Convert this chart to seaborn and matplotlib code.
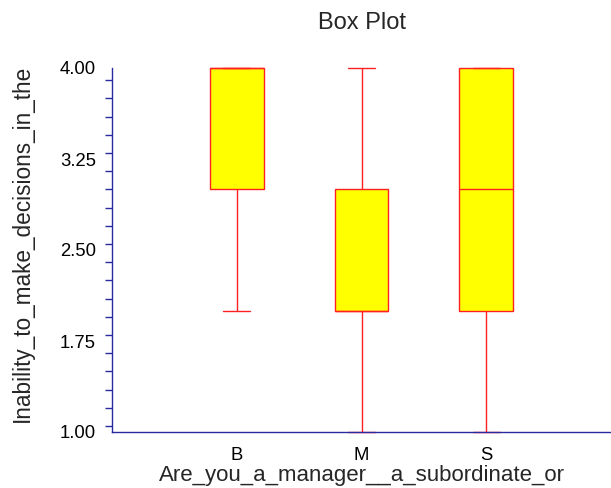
import matplotlib
matplotlib.use("Agg")
import matplotlib.pyplot as plt
import seaborn as sns
import pandas as pd
from matplotlib.ticker import MultipleLocator

# Data (per-group raw values reproducing the box summaries)
categories = ["B", "M", "S"]
values_B = [2, 3, 4, 4, 4]
values_M = [1, 2, 2, 3, 4]
values_S = [1, 2, 3, 4, 4]
y_ticks = [1.00, 1.75, 2.50, 3.25, 4.00]

rows = []
for cat, vals in zip(categories, [values_B, values_M, values_S]):
    for v in vals:
        rows.append({"group": cat, "value": v})
df = pd.DataFrame(rows)

sns.set_style("white")
plt.rcParams["font.family"] = ["Liberation Sans", "DejaVu Sans"]

axis_col = "#2a2aa0"
fig = plt.figure(figsize=(6.11, 4.88), dpi=100)
ax = fig.add_axes([112/611, 1-432/488, 1-112/611, (432-68)/488])

sns.boxplot(data=df, x="group", y="value", order=categories, ax=ax,
            color="#FFFF00", linecolor="#FF2020", saturation=1,
            width=0.43, linewidth=1.0, whis=1.5, showfliers=False)
for art in ax.patches + ax.lines:
    art.set_clip_on(False)

ax.set_xlim(-1, 3)
ax.set_ylim(1, 4)
ax.set_yticks(y_ticks)
ax.set_yticklabels([f"{t:.2f}" for t in y_ticks])
ax.yaxis.set_minor_locator(MultipleLocator(0.15))

for s in ["top", "right"]:
    ax.spines[s].set_visible(False)
for s in ["left", "bottom"]:
    ax.spines[s].set_color(axis_col)
    ax.spines[s].set_linewidth(1.0)

ax.tick_params(axis="both", which="both", direction="out", colors=axis_col,
               labelcolor="black", labelsize=13.3, width=1.0)
ax.tick_params(axis="y", which="major", length=5, pad=6.5)
ax.tick_params(axis="y", which="minor", length=5, left=True)
ax.tick_params(axis="x", which="major", length=5, pad=6)

ax.set_xlabel("Are_you_a_manager__a_subordinate_or", fontsize=16, labelpad=0.5)
ax.set_ylabel("Inability_to_make_decisions_in_the", fontsize=16.3)
ax.yaxis.set_label_coords(-0.156, 0.519)
ax.set_title("Box Plot", fontsize=17, pad=28)

fig.savefig("out.png", dpi=100)
